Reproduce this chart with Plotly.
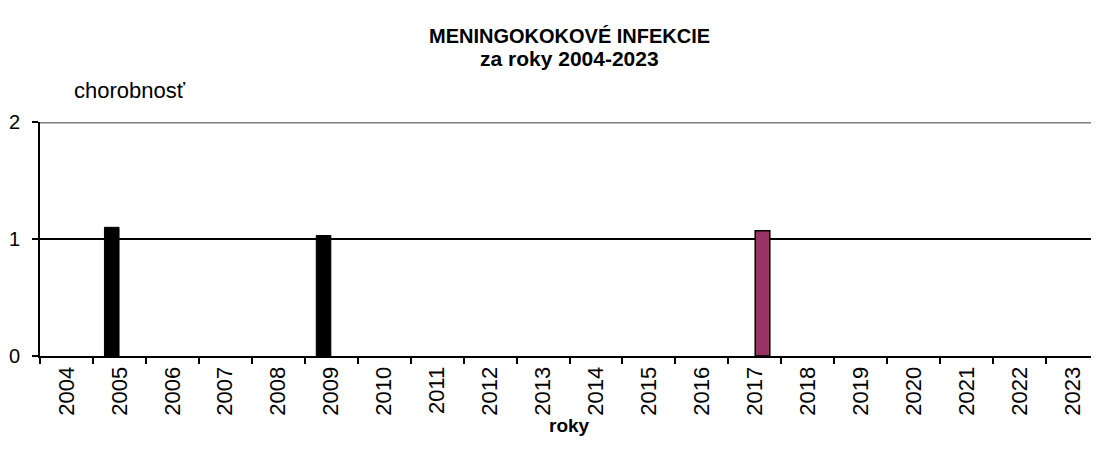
import plotly.graph_objects as go

# data
years = [str(y) for y in range(2004, 2024)]
sr_values = [0, 1.10, 0, 0, 0, 1.03, 0, 0, 0, 0, 0, 0, 0, 0, 0, 0, 0, 0, 0, 0]
kraj_values = [0, 0, 0, 0, 0, 0, 0, 0, 0, 0, 0, 0, 0, 1.07, 0, 0, 0, 0, 0, 0]

font = "Liberation Sans, Arial, sans-serif"

fig = go.Figure()
fig.add_trace(go.Bar(x=years, y=sr_values, name="SR",
                     marker=dict(color="black",
                                 line=dict(color="black",
                                           width=[1 if v > 0 else 0 for v in sr_values]))))
fig.add_trace(go.Bar(x=years, y=kraj_values, name="kraj",
                     marker=dict(color="#993366",
                                 line=dict(color="black",
                                           width=[1.5 if v > 0 else 0 for v in kraj_values]))))

# the page puts the figure 8px in from the top-left corner, margins account for that
fig.update_layout(
    width=1099, height=463,
    margin=dict(l=32, r=8, t=114, b=115),
    paper_bgcolor="white", plot_bgcolor="white",
    barmode="group", bargap=0.42, bargroupgap=0.05,
    showlegend=False,
    font=dict(family=font, color="black"),
)

fig.update_xaxes(
    type="category", tickson="boundaries", ticks="outside", ticklen=6,
    tickwidth=2, tickcolor="black", automargin=False,
    showline=True, linecolor="black", linewidth=2,
    tickangle=-90, tickfont=dict(size=22),
)
fig.update_yaxes(
    range=[0, 2], dtick=1, tickmode="linear", automargin=False,
    ticks="outside", ticklen=6, tickwidth=2, tickcolor="black",
    showline=True, linecolor="black", linewidth=2,
    showgrid=True, gridcolor="black", gridwidth=1.5,
    zeroline=False, tickfont=dict(size=20), ticklabelstandoff=8,
)

# gray top border at y = 2
fig.add_shape(type="line", xref="paper", yref="y", x0=0, x1=1, y0=2, y1=2,
              line=dict(color="#808080", width=3))

fig.add_annotation(text="<b>MENINGOKOKOVÉ INFEKCIE</b>", xref="paper", yref="paper",
                   x=0.5, y=1, yshift=86, yanchor="middle", showarrow=False,
                   font=dict(size=20))
fig.add_annotation(text="<b>za roky 2004-2023</b>", xref="paper", yref="paper",
                   x=0.5, y=1, yshift=64, yanchor="middle", showarrow=False,
                   font=dict(size=21))
fig.add_annotation(text="chorobnosť", xref="paper", yref="paper",
                   x=0, y=1, xshift=32, yshift=32, xanchor="left", yanchor="middle",
                   showarrow=False, font=dict(size=22))
fig.add_annotation(text="<b>roky</b>", xref="paper", yref="paper",
                   x=0.5, y=0, yshift=-69, yanchor="middle", showarrow=False,
                   font=dict(size=19))

fig.write_html("out.html")
